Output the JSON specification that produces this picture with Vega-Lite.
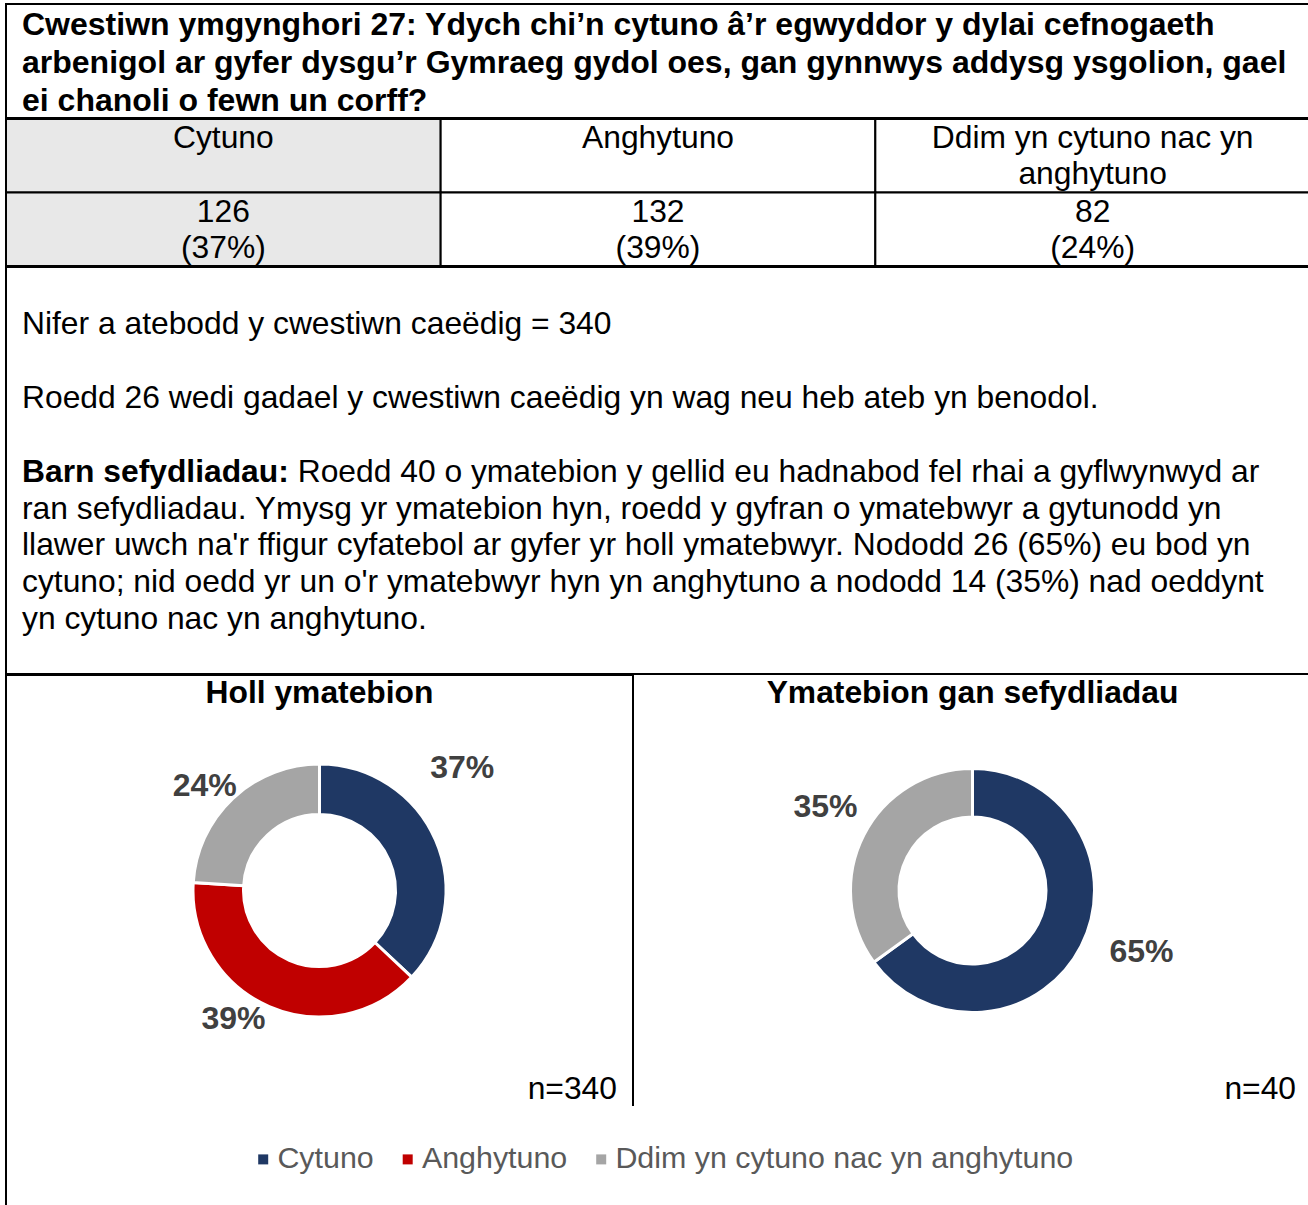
{
  "$schema": "https://vega.github.io/schema/vega-lite/v6.json",
  "background": "white",
  "padding": {"top": 3, "left": 5, "right": 0, "bottom": 0},
  "spacing": -2,
  "config": {
    "font": "Liberation Sans",
    "view": {"stroke": null}
  },
  "datasets": {
    "all": [
      {"cat": "Cytuno", "pct": 0.37, "idx": 1},
      {"cat": "Anghytuno", "pct": 0.39, "idx": 2},
      {"cat": "Ddim yn cytuno nac yn anghytuno", "pct": 0.24, "idx": 3}
    ],
    "orgs": [
      {"cat": "Cytuno", "pct": 0.65, "idx": 1},
      {"cat": "Ddim yn cytuno nac yn anghytuno", "pct": 0.35, "idx": 3}
    ]
  },
  "vconcat": [
    {
      "width": 1304,
      "height": 114,
      "view": {"stroke": "black", "strokeWidth": 2},
      "data": {"values": [
        {"line": 1, "text": "Cwestiwn ymgynghori 27: Ydych chi’n cytuno â’r egwyddor y dylai cefnogaeth"},
        {"line": 2, "text": "arbenigol ar gyfer dysgu’r Gymraeg gydol oes, gan gynnwys addysg ysgolion, gael"},
        {"line": 3, "text": "ei chanoli o fewn un corff?"}
      ]},
      "mark": {"type": "text", "align": "left", "baseline": "middle", "fontSize": 32, "fontWeight": "bold", "color": "black", "dx": 16, "dy": 2},
      "encoding": {
        "x": {"datum": 0, "type": "quantitative", "scale": {"domain": [0, 1]}, "axis": null},
        "y": {"field": "line", "type": "ordinal", "axis": null},
        "text": {"field": "text"}
      }
    },
    {
      "width": 1304,
      "height": 147,
      "data": {"values": [
        {"col": "Cytuno", "row": "pennawd", "text": "Cytuno"},
        {"col": "Anghytuno", "row": "pennawd", "text": "Anghytuno"},
        {"col": "Ddim", "row": "pennawd", "text": "Ddim yn cytuno nac yn\nanghytuno"},
        {"col": "Cytuno", "row": "gwerth", "text": "126\n(37%)"},
        {"col": "Anghytuno", "row": "gwerth", "text": "132\n(39%)"},
        {"col": "Ddim", "row": "gwerth", "text": "82\n(24%)"}
      ]},
      "encoding": {
        "x": {"field": "col", "type": "nominal", "sort": null, "axis": null, "scale": {"paddingInner": 0, "paddingOuter": 0}},
        "y": {"field": "row", "type": "nominal", "sort": null, "axis": null, "scale": {"paddingInner": 0, "paddingOuter": 0}}
      },
      "layer": [
        {
          "mark": {"type": "rect", "stroke": "black", "strokeWidth": 2},
          "encoding": {
            "fill": {"condition": {"test": "datum.col === 'Cytuno'", "value": "#E8E8E8"}, "value": "white"}
          }
        },
        {
          "mark": {"type": "text", "baseline": "top", "align": "center", "lineBreak": "\n", "lineHeight": 36, "fontSize": 31.8, "color": "black", "dy": 4},
          "encoding": {
            "y": {"field": "row", "type": "nominal", "sort": null, "axis": null, "bandPosition": 0},
            "text": {"field": "text"}
          }
        }
      ]
    },
    {
      "width": 1304,
      "height": 407,
      "view": {"stroke": "black", "strokeWidth": 2},
      "data": {"values": [
        {"line": 0, "text": "Nifer a atebodd y cwestiwn caeëdig = 340"},
        {"line": 2, "text": "Roedd 26 wedi gadael y cwestiwn caeëdig yn wag neu heb ateb yn benodol."},
        {"line": 4, "bold": "Barn sefydliadau:", "text": "Roedd 40 o ymatebion y gellid eu hadnabod fel rhai a gyflwynwyd ar"},
        {"line": 5, "text": "ran sefydliadau. Ymysg yr ymatebion hyn, roedd y gyfran o ymatebwyr a gytunodd yn"},
        {"line": 6, "text": "llawer uwch na'r ffigur cyfatebol ar gyfer yr holl ymatebwyr. Nododd 26 (65%) eu bod yn"},
        {"line": 7, "text": "cytuno; nid oedd yr un o'r ymatebwyr hyn yn anghytuno a nododd 14 (35%) nad oeddynt"},
        {"line": 8, "text": "yn cytuno nac yn anghytuno."}
      ]},
      "encoding": {
        "x": {"datum": 0, "type": "quantitative", "scale": {"domain": [0, 1]}, "axis": null},
        "y": {"field": "line", "type": "quantitative", "scale": {"domain": [-1.816, 9.214], "reverse": true, "nice": false, "zero": false}, "axis": null}
      },
      "layer": [
        {
          "transform": [{"filter": "datum.bold == null"}],
          "mark": {"type": "text", "align": "left", "baseline": "alphabetic", "fontSize": 31.8, "color": "black", "dx": 16},
          "encoding": {"text": {"field": "text"}}
        },
        {
          "transform": [{"filter": "datum.bold != null"}],
          "mark": {"type": "text", "align": "left", "baseline": "alphabetic", "fontSize": 31.8, "fontWeight": "bold", "color": "black", "dx": 16},
          "encoding": {"text": {"field": "bold"}}
        },
        {
          "transform": [{"filter": "datum.bold != null"}],
          "mark": {"type": "text", "align": "left", "baseline": "alphabetic", "fontSize": 31.8, "color": "black", "dx": 291.7},
          "encoding": {"text": {"field": "text"}}
        }
      ]
    },
    {
      "spacing": -1,
      "hconcat": [
        {
          "width": 627,
          "height": 431,
          "view": {"stroke": "black", "strokeWidth": 2, "strokeDash": [1058, 627, 431]},
          "layer": [
            {
              "data": {"name": "all"},
              "mark": {"type": "arc", "outerRadius": 126.5, "innerRadius": 76, "stroke": "white", "strokeWidth": 3},
              "encoding": {
                "theta": {"field": "pct", "type": "quantitative", "stack": true},
                "order": {"field": "idx", "type": "quantitative"},
                "color": {
                  "field": "cat", "type": "nominal",
                  "scale": {"domain": ["Cytuno", "Anghytuno", "Ddim yn cytuno nac yn anghytuno"], "range": ["#1F3864", "#C00000", "#A5A5A5"]},
                  "legend": {"orient": "none", "legendX": 242, "legendY": 1140, "direction": "horizontal", "title": null, "symbolType": "square", "symbolSize": 100, "symbolStrokeWidth": 0, "labelFontSize": 30.4, "labelColor": "#595959", "labelOffset": -1, "columnPadding": 18.5, "labelLimit": 800}
                }
              }
            },
            {
              "data": {"name": "all"},
              "mark": {"type": "text", "fontSize": 32, "fontWeight": "bold", "color": "#404040", "baseline": "middle",
                "radius": {"expr": "datum.cat === 'Cytuno' ? 188 : 155"},
                "thetaOffset": {"expr": "datum.cat === 'Cytuno' ? -0.3 : (datum.cat === 'Anghytuno' ? 0.18 : -0.08)"}},
              "encoding": {
                "theta": {"field": "pct", "type": "quantitative", "stack": true},
                "order": {"field": "idx", "type": "quantitative"},
                "detail": {"field": "cat", "type": "nominal"},
                "text": {"field": "pct", "type": "quantitative", "format": ".0%"}
              }
            },
            {
              "data": {"values": [{"t": "Holl ymatebion"}]},
              "mark": {"type": "text", "fontSize": 31.8, "fontWeight": "bold", "color": "black", "baseline": "middle", "dy": -197.5},
              "encoding": {"text": {"field": "t"}}
            },
            {
              "data": {"values": [{"t": "n=340"}]},
              "mark": {"type": "text", "fontSize": 31.8, "color": "black", "align": "right", "baseline": "middle", "dx": 297.5, "dy": 198},
              "encoding": {"text": {"field": "t"}}
            }
          ]
        },
        {
          "width": 677,
          "height": 431,
          "layer": [
            {
              "data": {"name": "orgs"},
              "mark": {"type": "arc", "outerRadius": 122, "innerRadius": 73.5, "stroke": "white", "strokeWidth": 3},
              "encoding": {
                "theta": {"field": "pct", "type": "quantitative", "stack": true},
                "order": {"field": "idx", "type": "quantitative"},
                "color": {
                  "field": "cat", "type": "nominal",
                  "scale": {"domain": ["Cytuno", "Anghytuno", "Ddim yn cytuno nac yn anghytuno"], "range": ["#1F3864", "#C00000", "#A5A5A5"]}
                }
              }
            },
            {
              "data": {"name": "orgs"},
              "mark": {"type": "text", "fontSize": 32, "fontWeight": "bold", "color": "#404040", "baseline": "middle",
                "radius": {"expr": "datum.cat === 'Cytuno' ? 180 : 169"},
                "thetaOffset": {"expr": "datum.cat === 'Cytuno' ? -0.12 : 0.045"}},
              "encoding": {
                "theta": {"field": "pct", "type": "quantitative", "stack": true},
                "order": {"field": "idx", "type": "quantitative"},
                "detail": {"field": "cat", "type": "nominal"},
                "text": {"field": "pct", "type": "quantitative", "format": ".0%"}
              }
            },
            {
              "data": {"values": [{"t": "Ymatebion gan sefydliadau"}]},
              "mark": {"type": "text", "fontSize": 31.8, "fontWeight": "bold", "color": "black", "baseline": "middle", "dy": -197.5},
              "encoding": {"text": {"field": "t"}}
            },
            {
              "data": {"values": [{"t": "n=40"}]},
              "mark": {"type": "text", "fontSize": 31.8, "color": "black", "align": "right", "baseline": "middle", "dx": 323.5, "dy": 198},
              "encoding": {"text": {"field": "t"}}
            }
          ]
        }
      ]
    },
    {
      "width": 1304,
      "height": 105,
      "view": {"stroke": "black", "strokeWidth": 2, "strokeDash": [1, 2712, 105, 1]},
      "data": {"values": [{"t": ""}]},
      "mark": {"type": "text"},
      "encoding": {"text": {"field": "t"}}
    }
  ]
}
